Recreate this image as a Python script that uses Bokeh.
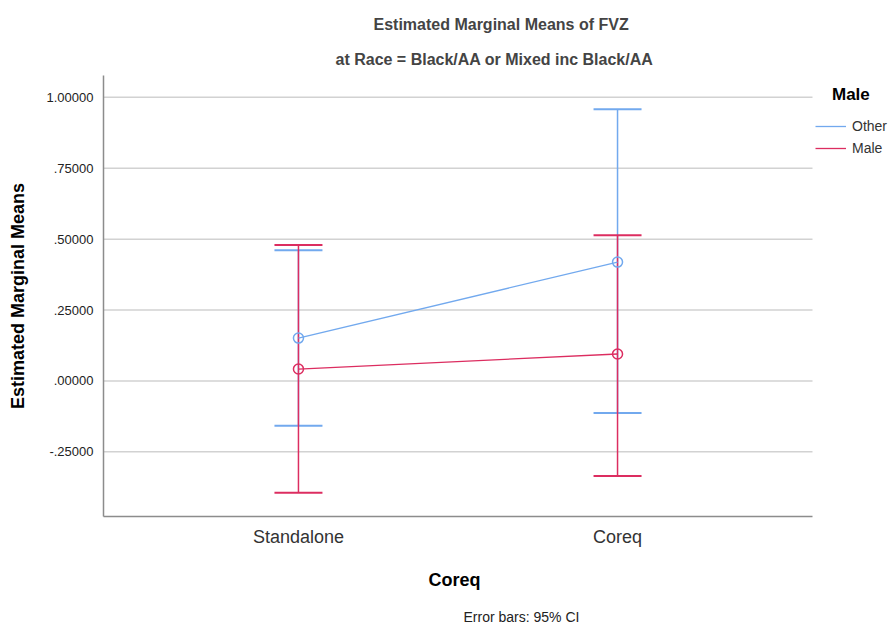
from bokeh.plotting import figure
from bokeh.models import (ColumnDataSource, Whisker, TeeHead, Legend, LegendItem,
                          Title, FixedTicker)
from bokeh.embed import file_html
from bokeh.resources import INLINE

# ---- data ----
categories = ["Standalone", "Coreq"]
groups = ["Other", "Male"]
mean_other = [0.151, 0.419]
lower_other = [-0.158, -0.113]
upper_other = [0.461, 0.958]
mean_male = [0.042, 0.095]
lower_male = [-0.394, -0.335]
upper_male = [0.479, 0.514]
y_ticks = [-0.25, 0.0, 0.25, 0.5, 0.75, 1.0]
y_tick_labels = ["-.25000", ".00000", ".25000", ".50000", ".75000", "1.00000"]

colors = {"Other": "#72a9ee", "Male": "#dc2d60"}
FONT = "Liberation Sans"

xpos = [i + 1 for i in range(len(categories))]

# plotting area: the visible axes cover X_LO..X_HI; the frame extends further
# right so that the legend (inside the frame) is not clipped
X_LO, X_HI, X_END = 0.389, 2.611, 2.868
Y_LO, Y_HI = -0.478, 1.077

p = figure(width=894, height=628, output_backend="svg", toolbar_location=None,
           x_range=(X_LO, X_END), y_range=(Y_LO, Y_HI),
           min_border_left=103, min_border_right=0, min_border_top=75,
           min_border_bottom=112)
p.outline_line_color = None
p.background_fill_color = "white"
p.border_fill_color = "white"

# axes
p.xaxis.ticker = FixedTicker(ticks=xpos)
p.xaxis.major_label_overrides = {x: c for x, c in zip(xpos, categories)}
p.xaxis.bounds = (X_LO, X_HI)
p.yaxis.ticker = FixedTicker(ticks=y_ticks)
p.yaxis.major_label_overrides = {t: l for t, l in zip(y_ticks, y_tick_labels)}
for ax in (p.xaxis, p.yaxis):
    ax.axis_line_color = "#8c8c8c"
    ax.axis_line_width = 1.5
    ax.major_tick_line_color = None
    ax.minor_tick_line_color = None
    ax.major_tick_out = 0
    ax.major_tick_in = 0
    ax.minor_tick_out = 0
    ax.major_label_text_font = FONT
    ax.axis_label_text_font = FONT
    ax.axis_label_text_font_style = "bold"
    ax.axis_label_text_color = "#000000"
p.xaxis.major_label_text_font_size = "18px"
p.xaxis.major_label_text_color = "#333333"
p.xaxis.major_label_standoff = 10
p.yaxis.axis_label = "Estimated Marginal Means"
p.yaxis.major_label_text_font_size = "13px"
p.yaxis.major_label_text_color = "#222222"
p.yaxis.major_label_standoff = 10
p.yaxis.axis_label_text_font_size = "18px"
p.yaxis.axis_label_standoff = 16

# horizontal grid lines, limited to the axes' extent
p.xgrid.grid_line_color = None
p.ygrid.grid_line_color = None
p.segment(x0=[X_LO] * len(y_ticks), x1=[X_HI] * len(y_ticks), y0=y_ticks,
          y1=y_ticks, line_color="#d2d2d2", line_width=1.5, level="underlay")

series = [
    ("Other", mean_other, lower_other, upper_other),
    ("Male", mean_male, lower_male, upper_male),
]
legend_items = []
for name, m, lo, up in series:
    c = colors[name]
    src = ColumnDataSource(dict(x=xpos, y=m, lower=lo, upper=up))
    w = Whisker(source=src, base="x", upper="upper", lower="lower",
                dimension="height", line_color=c, line_width=1.5,
                upper_head=TeeHead(size=48, line_color=c, line_width=2),
                lower_head=TeeHead(size=48, line_color=c, line_width=2))
    p.add_layout(w)
    r = p.line("x", "y", source=src, line_color=c, line_width=1.3)
    p.scatter("x", "y", source=src, marker="circle", size=10, fill_color=None,
              line_color=c, line_width=1.5)
    legend_items.append(LegendItem(label=name, renderers=[r]))

legend = Legend(items=legend_items, location=(712, 358), padding=0, margin=0,
                glyph_width=31, glyph_height=20, label_height=20, spacing=2,
                label_standoff=6, label_text_font=FONT, label_text_font_size="14px",
                label_text_color="#333333", border_line_color=None,
                background_fill_alpha=0,
                title="\u2002\u2002Male", title_text_font=FONT,
                title_text_font_size="17px", title_text_font_style="bold",
                title_text_color="#000000", title_standoff=11)
p.add_layout(legend)

sub = Title(text="at Race = Black/AA or Mixed inc Black/AA", align="left",
            offset=232, text_font=FONT, text_font_size="16px",
            text_font_style="bold", standoff=16)
main = Title(text="Estimated Marginal Means of FVZ", align="left",
             offset=270, text_font=FONT, text_font_size="16px",
             text_font_style="bold", standoff=12, vertical_align="top")
p.add_layout(sub, "above")
p.add_layout(main, "above")

# x-axis title, centred under the visible axis (not the wider frame)
xtitle = Title(text="Coreq", align="left", offset=325, text_font=FONT,
               text_font_size="18px", text_font_style="bold",
               text_color="#000000", standoff=0, vertical_align="top",
               padding=(0, 0, 20, 0))
p.add_layout(xtitle, "below")

note = Title(text="Error bars: 95% CI", align="left", offset=360,
             text_font=FONT, text_font_size="14px", text_font_style="normal",
             text_color="#222222", standoff=0, vertical_align="top",
             padding=(0, 0, 17, 0))
p.add_layout(note, "below")

open("out.html", "w").write(file_html(p, INLINE))
